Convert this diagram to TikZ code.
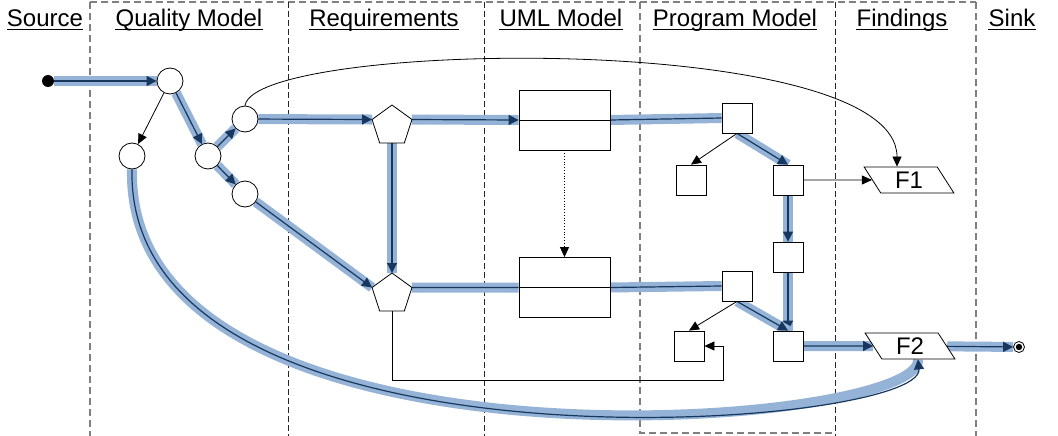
\documentclass[tikz,border=0pt]{standalone}
\usepackage{fontspec}
\setmainfont{Liberation Sans}
\usetikzlibrary{arrows.meta,shapes.geometric}
\definecolor{hlc}{RGB}{149,179,215}
\definecolor{navy}{RGB}{23,55,94}
\definecolor{grayd}{RGB}{128,128,128}
\pgfdeclarelayer{bg}
\pgfsetlayers{bg,main}
\begin{document}
\begin{tikzpicture}[x=1pt,y=-1pt,
  every node/.style={font=\fontsize{24}{28}\selectfont},
  hdr/.style={inner sep=0pt, anchor=base},
  circ/.style={circle, draw, fill=white, minimum size=26pt, inner sep=0pt, line width=0.8pt},
  pent/.style={regular polygon, regular polygon sides=5, draw, fill=white, minimum size=42pt, inner sep=0pt, outer sep=0pt, line width=0.8pt},
  sq/.style={rectangle, draw, fill=white, minimum size=30pt, inner sep=0pt, line width=0.8pt},
  uml/.style={rectangle, draw, fill=white, minimum width=91pt, minimum height=60pt, inner sep=0pt, line width=0.8pt,
    path picture={\draw[line width=0.8pt] (path picture bounding box.west) -- (path picture bounding box.east);}},
  para/.style={trapezium, trapezium left angle=116.6, trapezium right angle=63.4, trapezium stretches=true,
    draw, fill=white, minimum width=90pt, minimum height=26pt, inner sep=0pt, line width=0.8pt},
  darkdash/.style={draw=black!85, line width=0.8pt, dash pattern=on 6pt off 3pt},
  graydash/.style={draw=grayd, line width=1.3pt, dash pattern=on 7pt off 4pt},
  arr/.style={draw=black, line width=0.8pt, -{Triangle[length=10pt,width=9pt]}},
  hl/.style={draw=navy, line width=1.2pt, -{Triangle[length=10pt,width=10pt]},
    preaction={draw=hlc, line width=10pt, arrows=-}},
  hlna/.style={draw=navy, line width=1.2pt, -, preaction={draw=hlc, line width=10pt}},
]
\useasboundingbox (0,0) rectangle (1058,436);

% headers
\node[hdr] (hsrc) at (45,27) {Source};
\node[hdr] (hqm) at (189,27) {Quality Model};
\node[hdr] (hreq) at (384,27) {Requirements};
\node[hdr] (huml) at (561,27) {UML Model};
\node[hdr] (hpm) at (735,27) {Program Model};
\node[hdr] (hfind) at (902,27) {Findings};
\node[hdr] (hsink) at (1012,27) {Sink};
\foreach \h in {hsrc,hqm,hreq,huml,hpm,hfind,hsink}
  \draw[line width=1pt] ([yshift=-2.3pt]\h.base west) -- ([yshift=-2.3pt]\h.base east);

% nodes
\node[circle, fill=black, minimum size=12pt, inner sep=0pt] (src) at (48,81) {};
\node[circ] (q1) at (170,81) {};
\node[circ] (q2) at (132,156) {};
\node[circ] (q3) at (208,156) {};
\node[circ] (q4) at (245,119) {};
\node[circ] (q5) at (245,194) {};
\node[pent] (r1) at (392,126) {};
\node[pent] (r2) at (392,294) {};
\node[uml] (u1) at (564.5,120) {};
\node[uml] (u2) at (564.5,287.5) {};
\node[sq] (p1) at (737,118) {};
\node[sq] (p2) at (691,180) {};
\node[sq] (p3) at (788,180) {};
\node[sq] (p4) at (788,257) {};
\node[sq] (p5) at (737,286) {};
\node[sq] (p6) at (689,346) {};
\node[sq] (p7) at (788,346) {};
\node[para] (f1) at (909,180) {F1};
\node[para] (f2) at (910,346) {F2};
\node[circle, draw, fill=white, minimum size=11pt, inner sep=0pt, line width=0.8pt,
  path picture={\fill[black] (path picture bounding box.center) circle (3.2pt);}] (sink) at (1019,347) {};
\coordinate (c1) at (723,380);

\begin{pgfonlayer}{bg}
  % swimlane borders
  \draw[graydash] (90,2) -- (976,2);
  \draw[graydash] (90,2) -- (90,436);
  \draw[graydash] (976,2) -- (976,436);
  \draw[graydash] (640,2) -- (640,433) -- (835,433);
  \draw[darkdash] (288,2) -- (288,436);
  \draw[darkdash] (484,2) -- (484,436);
  \draw[darkdash] (835,2) -- (835,436);

  % highlighted path
  \draw[hl] (src) -- (q1);
  \draw[hl] (q1) -- (q3);
  \draw[hl] (q3) -- (q4);
  \draw[hl] (q3) -- (q5);
  \draw[hl] (q4) -- (r1.corner 2);
  \draw[hl] (q5) -- (r2.corner 2);
  \draw[hl] (r1.south) -- (r2.corner 1);
  \draw[hl] (r1.corner 5) -- (u1.west);
  \draw[hlna] (r2.corner 5) -- (u2.west);
  \draw[hlna] (u1.east) -- (p1.west);
  \draw[hlna] (u2.east) -- (p5.west);
  \draw[hl] (p1.south) -- (p3.north);
  \draw[hl] (p3) -- (p4);
  \draw[hl] (p4) -- (p7);
  \draw[hl] (p5.south) -- (p7.north);
  \draw[hl] (p7) -- (f2);
  \draw[hl] (f2) -- (sink);
  \draw[hl] (q2.south) .. controls (125,490) and (925,430) .. ([xshift=8pt]f2.south);

  % thin connectors
  \draw[arr] (q1) -- (q2);
  \draw[arr] (q4.north) .. controls (255,40) and (897,30) .. ([xshift=-12pt]f1.north);
  \draw[arr] (p1.south) -- (p2.north);
  \draw[arr] (p3) -- (f1);
  \draw[arr] (p5.south) -- (p6.north);
  \draw[arr] (r2.south) |- (c1) |- (p6.east);
  \draw[arr, dotted] (u1.south) -- (u2.north);
\end{pgfonlayer}
\end{tikzpicture}
\end{document}
